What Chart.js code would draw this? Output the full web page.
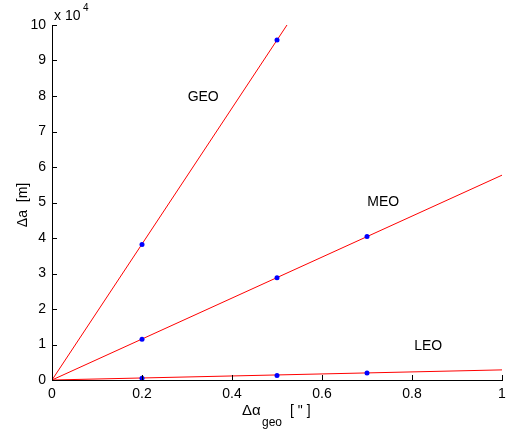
<!DOCTYPE html>
<html>
<head>
<meta charset="utf-8">
<script src="https://cdn.jsdelivr.net/npm/chart.js@4"></script>
<style>
  html, body { margin: 0; padding: 0; background: #fff; }
  #wrap { width: 508px; height: 431px; }
</style>
</head>
<body>
<div id="wrap"><canvas id="orbitChart" width="508" height="431"></canvas></div>
<script>
// measured points (x in arcsec, y in 1e4 m)
var sampleX = [0.2, 0.5, 0.7];
var geoPts = [3.82, 9.58];
var meoPts = [1.15, 2.88, 4.04];
var leoPts = [0.05, 0.13, 0.20];

// fitted lines through origin
var lineX = [0, 1];
var geoLine = [0, 19.15];
var meoLine = [0, 5.77];
var leoLine = [0, 0.285];

var xTicks = [0, 0.2, 0.4, 0.6, 0.8, 1];
var yTicks = [0, 1, 2, 3, 4, 5, 6, 7, 8, 9, 10];

var labels = ['GEO', 'MEO', 'LEO'];
var labelX = [0.336, 0.736, 0.836];
var labelY = [7.97, 5.01, 0.96];

function pairs(xs, ys) {
  var out = [];
  for (var i = 0; i < ys.length; i++) out.push({x: xs[i], y: ys[i]});
  return out;
}

function lineSet(ys) {
  return {
    data: pairs(lineX, ys),
    showLine: true,
    borderColor: '#ff0000',
    borderWidth: 1,
    pointRadius: 0,
    order: 2
  };
}

function pointSet(ys) {
  return {
    data: pairs(sampleX, ys),
    showLine: false,
    backgroundColor: '#0000ff',
    borderColor: '#0000ff',
    pointRadius: 2.5,
    borderWidth: 0,
    order: 1
  };
}

var FONT = '"Liberation Sans", Arial, Helvetica, sans-serif';

var extras = {
  id: 'extras',
  afterDraw: function(chart) {
    var c = chart.ctx;
    var xs = chart.scales.x, ys = chart.scales.y;
    var a = chart.chartArea;
    c.save();
    // inward tick marks
    c.strokeStyle = '#000';
    c.lineWidth = 1;
    c.beginPath();
    xTicks.forEach(function(v) {
      var px = Math.round(xs.getPixelForValue(v)) + 0.5;
      c.moveTo(px, a.bottom);
      c.lineTo(px, a.bottom - 5);
    });
    yTicks.forEach(function(v) {
      var py = Math.round(ys.getPixelForValue(v)) + 0.5;
      c.moveTo(a.left, py);
      c.lineTo(a.left + 5, py);
    });
    c.stroke();

    c.fillStyle = '#000';
    c.textBaseline = 'middle';
    // series labels
    c.font = '14px ' + FONT;
    c.textAlign = 'center';
    for (var i = 0; i < labels.length; i++) {
      c.fillText(labels[i], xs.getPixelForValue(labelX[i]), ys.getPixelForValue(labelY[i]));
    }

    // exponent
    c.textAlign = 'left';
    c.font = '14px ' + FONT;
    c.fillText('x 10', 54, 16);
    c.font = '10px ' + FONT;
    c.fillText('4', 83, 8);

    // x title with subscript
    c.font = '15px ' + FONT;
    c.fillText('\u0394\u03b1', 242, 411);
    c.font = '12px ' + FONT;
    c.fillText('geo', 262, 423);
    c.font = '14px ' + FONT;
    c.fillText('[ " ]', 290, 411);

    // y title
    c.translate(23, 205);
    c.rotate(-Math.PI / 2);
    c.textAlign = 'center';
    c.fillText('\u0394a  [m]', 0, 0);
    c.restore();
  }
};

new Chart(document.getElementById('orbitChart'), {
  type: 'scatter',
  data: {
    datasets: [
      lineSet(geoLine), lineSet(meoLine), lineSet(leoLine),
      pointSet(geoPts), pointSet(meoPts), pointSet(leoPts)
    ]
  },
  options: {
    responsive: false,
    animation: false,
    layout: { padding: { left: 0, right: 6, top: 25, bottom: 0 } },
    plugins: { legend: { display: false }, tooltip: { enabled: false } },
    scales: {
      x: {
        type: 'linear',
        min: 0, max: 1,
        afterFit: function(s) { s.height = 51; s.paddingLeft = 0; s.paddingRight = 0; },
        grid: { drawOnChartArea: false, drawTicks: false },
        border: { display: true, color: '#000', width: 1 },
        ticks: {
          stepSize: 0.2, padding: 6, color: '#000', font: { size: 14, family: FONT },
          callback: function(v) { return String(Math.round(v * 10) / 10); }
        }
      },
      y: {
        type: 'linear',
        min: 0, max: 10,
        afterFit: function(s) { s.width = 52; s.paddingTop = 0; s.paddingBottom = 0; },
        grid: { drawOnChartArea: false, drawTicks: false },
        border: { display: true, color: '#000', width: 1 },
        ticks: { stepSize: 1, padding: 6, color: '#000', font: { size: 14, family: FONT } }
      }
    }
  },
  plugins: [extras]
});
</script>
</body>
</html>
